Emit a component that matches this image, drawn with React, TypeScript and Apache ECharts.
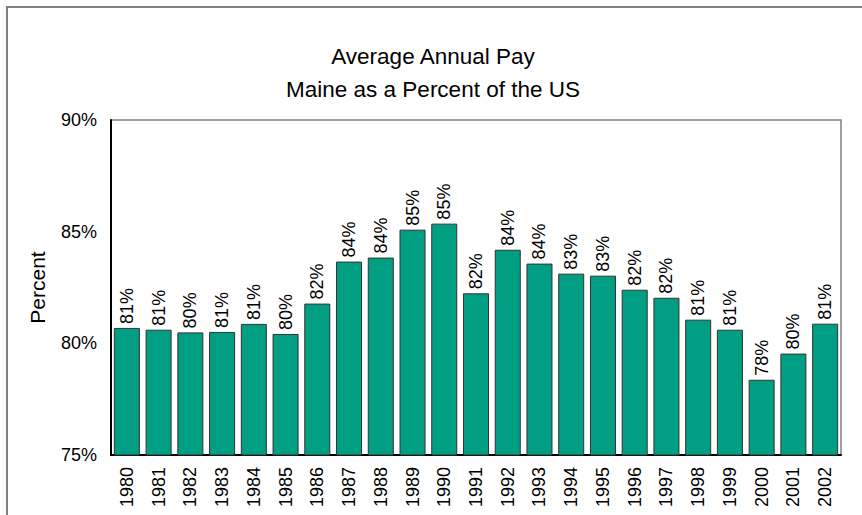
import React, { useEffect, useRef } from "react";
import * as echarts from "echarts";

const years = ["1980","1981","1982","1983","1984","1985","1986","1987","1988","1989","1990","1991","1992","1993","1994","1995","1996","1997","1998","1999","2000","2001","2002"];
const percents = [80.69, 80.61, 80.49, 80.51, 80.87, 80.42, 81.78, 83.66, 83.84, 85.09, 85.36, 82.24, 84.19, 83.57, 83.12, 83.03, 82.40, 82.04, 81.06, 80.61, 78.37, 79.54, 80.88];
const yTicks = [75, 80, 85, 90];

const FONT = "'Liberation Sans', Arial, sans-serif";

export default function App() {
  const ref = useRef<HTMLDivElement>(null);
  useEffect(() => {
    if (!ref.current) return;
    const chart = echarts.init(ref.current, null, { renderer: "svg" });
    chart.setOption({
      animation: false,
      backgroundColor: "#ffffff",
      textStyle: { fontFamily: FONT },
      title: {
        text: "Average Annual Pay\nMaine as a Percent of the US",
        left: 428,
        top: 35,
        textAlign: "center",
        textStyle: { fontSize: 22.5, fontWeight: "normal", color: "#000", lineHeight: 33, fontFamily: FONT },
      },
      graphic: [
        {
          type: "rect",
          shape: { x: 7, y: 7, width: 900, height: 600 },
          style: { fill: "none", stroke: "#808080", lineWidth: 2 },
          silent: true,
        },
      ],
      grid: { left: 111, right: 21, top: 120, bottom: 60, show: true, borderColor: "#808080", borderWidth: 1.5 },
      xAxis: {
        type: "category",
        data: years,
        axisLine: { show: true, lineStyle: { color: "#000", width: 2 } },
        axisTick: { show: false },
        axisLabel: { rotate: 90, fontSize: 18, color: "#000", margin: 12, fontFamily: FONT },
      },
      yAxis: {
        type: "value",
        min: yTicks[0],
        max: yTicks[yTicks.length - 1],
        interval: 5,
        name: "Percent",
        nameLocation: "middle",
        nameGap: 63,
        nameRotate: 90,
        nameTextStyle: { fontSize: 21, color: "#000", fontFamily: FONT },
        axisLine: { show: true, lineStyle: { color: "#000", width: 2 } },
        axisTick: { show: false },
        splitLine: { show: false },
        axisLabel: { formatter: "{value}%", fontSize: 18, color: "#000", margin: 14, fontFamily: FONT },
      },
      series: [
        {
          type: "bar",
          data: percents,
          barCategoryGap: "18%",
          itemStyle: { color: "#009E82", borderColor: "#333", borderWidth: 1 },
          label: {
            show: true,
            position: "top",
            rotate: 90,
            align: "left",
            verticalAlign: "middle",
            distance: 4,
            fontSize: 18,
            color: "#000",
            fontFamily: FONT,
            formatter: (p: any) => Math.round(p.value) + "%",
          },
        },
      ],
    });
    return () => chart.dispose();
  }, []);
  return <div ref={ref} style={{ position: "fixed", left: 0, top: 0, width: 862, height: 515 }} />;
}
